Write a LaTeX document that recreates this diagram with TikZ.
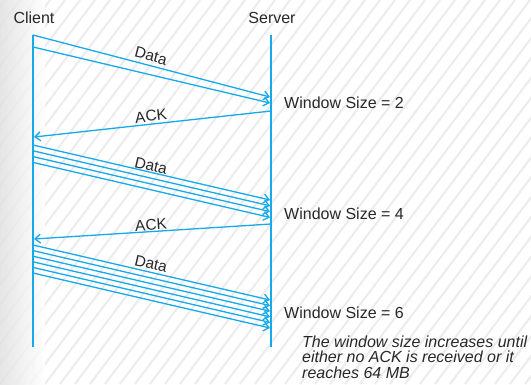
\documentclass[tikz,border=0pt]{standalone}
\usepackage{fontspec}
\setmainfont{Liberation Sans}
\usetikzlibrary{arrows.meta}
\definecolor{seqblue}{RGB}{22,170,235}
\definecolor{txt}{RGB}{40,40,40}
\definecolor{stripe}{RGB}{236,236,236}
\begin{document}
\begin{tikzpicture}[x=1pt,y=-1pt,
  lbl/.style={font=\fontsize{16}{19}\selectfont, text=txt, inner sep=0pt},
  msglbl/.style={font=\fontsize{15.5}{18}\selectfont, text=txt, inner sep=0pt},
  note/.style={font=\fontsize{16}{15.6}\selectfont\itshape, text=txt, inner sep=0pt, align=left},
  life/.style={draw=seqblue, line width=1.6pt},
  msg/.style={draw=seqblue, line width=1.3pt, -{Straight Barb[length=5.5pt,width=9pt]}},
  stripeline/.style={draw=stripe, line width=2pt}]
\useasboundingbox (0,0) rectangle (531,384);
% background
\fill[white] (0,0) rectangle (531,384);
\begin{scope}
  \clip (0,0) rectangle (531,384);
  \foreach \i in {-22,...,38} \draw[stripeline] (\i*15,384) -- ++(290,-384);
  \shade[left color=gray!25, right color=white, opacity=0.8] (0,0) rectangle (45,384);
\end{scope}
% headers
\node[lbl, anchor=base] (client) at (34,23) {Client};
\node[lbl, anchor=base] (server) at (272,23) {Server};
% lifelines
\coordinate (ct) at (33,35);
\coordinate (cb) at (33,347);
\coordinate (st) at (271,35);
\coordinate (sb) at (271,347);
\draw[life] (ct) -- (cb);
\draw[life] (st) -- (sb);
% data group 1
\foreach \k/\a/\b in {1/35/97, 2/47/103} {
  \coordinate (a\k) at (33,\a);
  \coordinate (b\k) at (270,\b);
  \draw[msg] (a\k) -- (b\k);
}
\node[msglbl, rotate=-14.7] (data1) at (151,56) {Data};
% ack 1
\coordinate (k1s) at (271,111);
\coordinate (k1e) at (34,137);
\draw[msg] (k1s) -- (k1e);
\node[msglbl, rotate=6.2] (ack1) at (151,116) {ACK};
% data group 2
\foreach \k in {0,...,3} {
  \coordinate (c\k) at (33,145+5.8*\k);
  \coordinate (d\k) at (270,200+5.8*\k);
  \draw[msg] (c\k) -- (d\k);
}
\node[msglbl, rotate=-13] (data2) at (151,166) {Data};
% ack 2
\coordinate (k2s) at (271,224);
\coordinate (k2e) at (34,239);
\draw[msg] (k2s) -- (k2e);
\node[msglbl, rotate=3.6] (ack2) at (151,225) {ACK};
% data group 3
\foreach \k in {0,...,5} {
  \coordinate (e\k) at (33,245+5.6*\k);
  \coordinate (f\k) at (270,300+5.6*\k);
  \draw[msg] (e\k) -- (f\k);
}
\node[msglbl, rotate=-13] (data3) at (151,264) {Data};
% window sizes
\node[lbl, anchor=base west] (w2) at (284,108.5) {Window Size = 2};
\node[lbl, anchor=base west] (w4) at (284,219) {Window Size = 4};
\node[lbl, anchor=base west] (w6) at (284,318) {Window Size = 6};
\node[note, anchor=north west] (nt) at (302,335.5) {The window size increases until\\either no ACK is received or it\\reaches 64 MB};
\end{tikzpicture}
\end{document}
